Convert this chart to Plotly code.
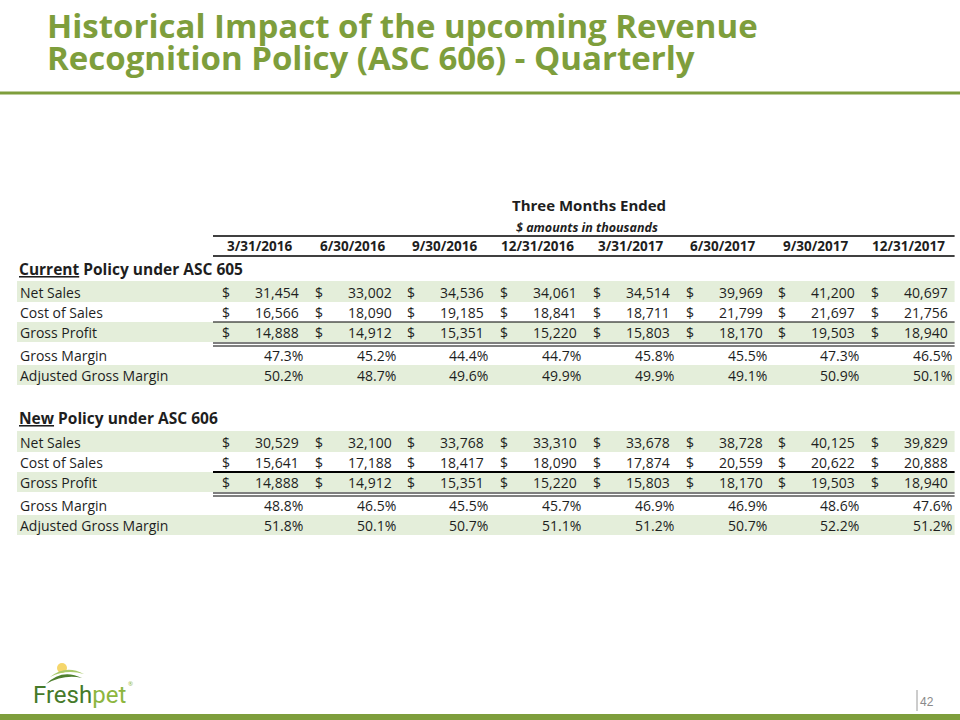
import plotly.graph_objects as go

# ---------------- data ----------------
dates = ["3/31/2016", "6/30/2016", "9/30/2016", "12/31/2016",
         "3/31/2017", "6/30/2017", "9/30/2017", "12/31/2017"]

row_labels = ["Net Sales", "Cost of Sales", "Gross Profit", "Gross Margin", "Adjusted Gross Margin"]

cur_net_sales = [31454, 33002, 34536, 34061, 34514, 39969, 41200, 40697]
cur_cost_of_sales = [16566, 18090, 19185, 18841, 18711, 21799, 21697, 21756]
cur_gross_profit = [14888, 14912, 15351, 15220, 15803, 18170, 19503, 18940]
cur_gross_margin = [47.3, 45.2, 44.4, 44.7, 45.8, 45.5, 47.3, 46.5]
cur_adj_gross_margin = [50.2, 48.7, 49.6, 49.9, 49.9, 49.1, 50.9, 50.1]

new_net_sales = [30529, 32100, 33768, 33310, 33678, 38728, 40125, 39829]
new_cost_of_sales = [15641, 17188, 18417, 18090, 17874, 20559, 20622, 20888]
new_gross_profit = [14888, 14912, 15351, 15220, 15803, 18170, 19503, 18940]
new_gross_margin = [48.8, 46.5, 45.5, 45.7, 46.9, 46.9, 48.6, 47.6]
new_adj_gross_margin = [51.8, 50.1, 50.7, 51.1, 51.2, 50.7, 52.2, 51.2]

title_lines = ["Historical Impact of the upcoming Revenue",
               "Recognition Policy (ASC 606) - Quarterly"]
sections = [
    ("<u>Current</u> Policy under ASC 605",
     [cur_net_sales, cur_cost_of_sales, cur_gross_profit, cur_gross_margin, cur_adj_gross_margin]),
    ("<u>New</u> Policy under ASC 606",
     [new_net_sales, new_cost_of_sales, new_gross_profit, new_gross_margin, new_adj_gross_margin]),
]

# ---------------- style / layout ----------------
GREEN = "#7E9E3C"
BAND = "#E4EEDA"
TXT = "#1E1E1E"
FONT = "Open Sans, sans-serif"

COL_LEFT = 213.0
COL_W = 92.7
TABLE_RIGHT = COL_LEFT + 8 * COL_W
BAND_LEFT = 17

fig = go.Figure()
shapes = []
ann = []


def text(x, y, s, size=14, bold=False, color=TXT, xanchor="left", family=FONT, italic=False):
    if bold:
        s = "<b>" + s + "</b>"
    if italic:
        s = "<i>" + s + "</i>"
    ann.append(dict(x=x, y=y, xref="x", yref="y", text=s, showarrow=False,
                    xanchor=xanchor, yanchor="middle", align="left",
                    font=dict(family=family, size=size, color=color), borderpad=0, borderwidth=0))


def hline(y, x0, x1, width=1, color="#000000"):
    shapes.append(dict(type="line", xref="x", yref="y", x0=x0, x1=x1, y0=y, y1=y,
                       line=dict(color=color, width=width), layer="above"))


def band(y0, y1):
    shapes.append(dict(type="rect", xref="x", yref="y", x0=BAND_LEFT, x1=TABLE_RIGHT, y0=y0, y1=y1,
                       fillcolor=BAND, line=dict(width=0), layer="below"))


# title: one text block, base size sets the (tight) line spacing, span sets glyph size
title_html = "<b><span style='font-size:33px'>" + "<br>".join(title_lines) + "</span></b>"
text(47, 41, title_html, size=24.5, color=GREEN)
shapes.append(dict(type="line", xref="x", yref="y", x0=0, x1=960, y0=93, y1=93,
                   line=dict(color=GREEN, width=3)))
# bottom bar
shapes.append(dict(type="rect", xref="x", yref="y", x0=0, x1=960, y0=714, y1=720,
                   fillcolor=GREEN, line=dict(width=0)))

# table header
center = COL_LEFT + 4 * COL_W
text(center + 5, 205, "Three Months Ended", size=15, bold=True, xanchor="center")
text(center + 3, 227, "$ amounts in thousands", size=12.5, bold=True, italic=True, xanchor="center")
hline(236, COL_LEFT, TABLE_RIGHT, 1.3)
for k, d in enumerate(dates):
    text(COL_LEFT + (k + 0.5) * COL_W, 246, d, size=13.5, bold=True, xanchor="center")
hline(256, COL_LEFT, TABLE_RIGHT, 1.3)

for s_idx, (heading, rows) in enumerate(sections):
    off = 150 * s_idx
    text(19, 269 + off - (1 if s_idx else 0), heading, size=15.5, bold=True)
    ys = [292 + off, 312 + off, 332 + off, 355 + off, 375 + off]
    band(ys[0] - 11, ys[0] + 10)
    band(ys[2] - 10, ys[2] + 10)
    band(ys[4] - 10, ys[4] + 10)
    for r, (lab, vals) in enumerate(zip(row_labels, rows)):
        text(20, ys[r], lab, size=14)
        for k, v in enumerate(vals):
            cl = COL_LEFT + k * COL_W
            if r < 3:
                text(cl + 9, ys[r], "$", size=14)
                text(cl + 86, ys[r], f"{v:,}", size=14, xanchor="right")
            else:
                text(cl + 90, ys[r], f"{v:.1f}%", size=14, xanchor="right")
    hline(ys[1] + 10, COL_LEFT, TABLE_RIGHT, 1.2 if s_idx == 0 else 2)
    hline(ys[2] + 11, COL_LEFT, TABLE_RIGHT, 1)
    hline(ys[2] + 14, COL_LEFT, TABLE_RIGHT, 1)

# logo
shapes.append(dict(type="circle", xref="x", yref="y", x0=57, x1=67, y0=663, y1=673,
                   fillcolor="#F5D66B", line=dict(width=0), layer="below"))
shapes.append(dict(type="path", xref="x", yref="y",
                   path="M 46 684 Q 62 668 82 678 Q 64 674 46 684 Z",
                   fillcolor="#4E7F2E", line=dict(width=0)))
shapes.append(dict(type="path", xref="x", yref="y",
                   path="M 50 677 Q 66 664 84 674 Q 66 669 50 677 Z",
                   fillcolor="#A9C96A", line=dict(width=0)))
text(33, 695,
     "<span style='color:#467A2A'>Fresh</span><span style='color:#8DB63F'>pet</span>",
     size=24, family="Liberation Sans Narrow, Arial Narrow, Roboto, sans-serif")
text(128, 684, "®", size=6, color="#8DB63F")

# page number
shapes.append(dict(type="line", xref="x", yref="y", x0=917, x1=917, y0=690, y1=711,
                   line=dict(color="#9A9A9A", width=1)))
text(920, 702, "42", size=12, color="#8A8A8A", family="Liberation Sans, Arial, sans-serif")

fig.update_layout(
    width=960, height=720,
    margin=dict(l=0, r=0, t=0, b=0),
    paper_bgcolor="white", plot_bgcolor="white",
    xaxis=dict(range=[0, 960], visible=False, fixedrange=True),
    yaxis=dict(range=[720, 0], visible=False, fixedrange=True),
    shapes=shapes, annotations=ann, showlegend=False,
)
fig.write_html("out.html", config={"displayModeBar": False},
               post_script="document.body.style.margin='0px';document.body.style.overflow='hidden';")
